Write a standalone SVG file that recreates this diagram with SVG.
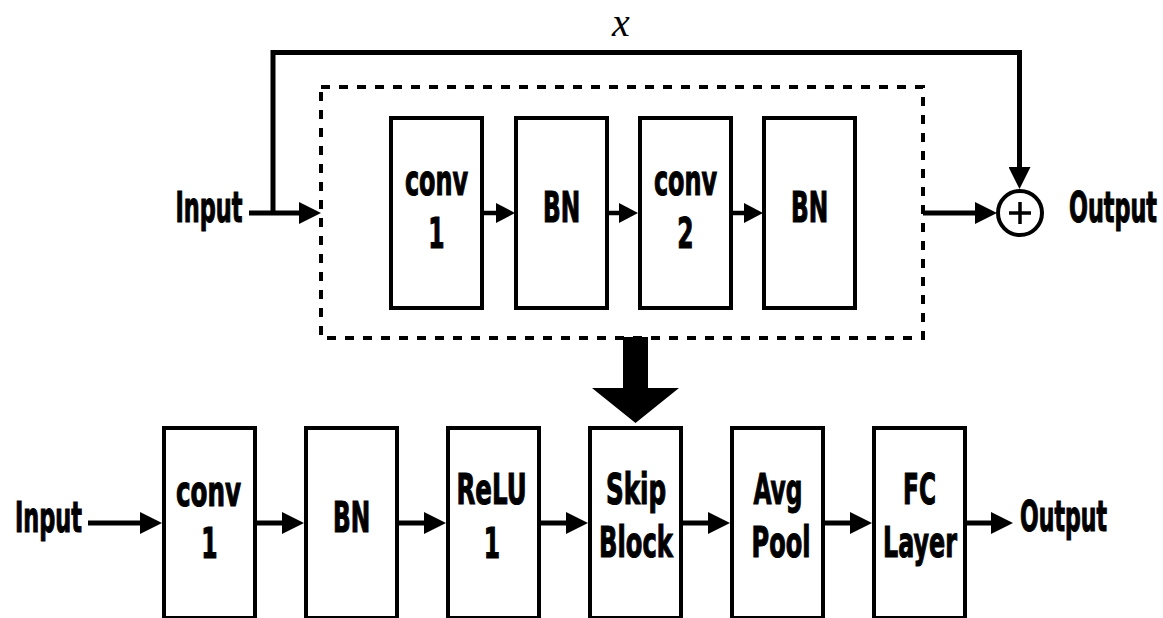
<svg xmlns="http://www.w3.org/2000/svg" width="1163" height="618" viewBox="0 0 1163 618">
<style>
.box{fill:#fff;stroke:#000;stroke-width:4}
.lbl{font-family:"DejaVu Sans Condensed","DejaVu Sans","Liberation Sans",sans-serif;font-weight:bold;font-size:42px;fill:#000;stroke:#000;stroke-width:1.1px}
.c{text-anchor:middle}
.ln{fill:none;stroke:#000;stroke-width:5}
.ln2{fill:none;stroke:#000;stroke-width:4.5}
</style>
<defs>
<marker id="ahL" markerUnits="userSpaceOnUse" markerWidth="22" markerHeight="22" refX="12" refY="11" orient="auto"><path d="M0,0 L22,11 L0,22 z" fill="#000"/></marker>
<marker id="ahS" markerUnits="userSpaceOnUse" markerWidth="19" markerHeight="20" refX="9" refY="10" orient="auto"><path d="M0,0 L19,10 L0,20 z" fill="#000"/></marker>
</defs>
<rect width="1163" height="618" fill="#fff"/>

<g id="connectors">
<path class="ln" d="M273,211 V52.5 H1019.5 V179" marker-end="url(#ahL)"/>
<line class="ln" x1="249" y1="213" x2="311" y2="213" marker-end="url(#ahL)"/>
<line class="ln2" x1="483" y1="213" x2="505" y2="213" marker-end="url(#ahS)"/>
<line class="ln2" x1="607" y1="213" x2="628" y2="213" marker-end="url(#ahS)"/>
<line class="ln2" x1="733" y1="213" x2="753" y2="213" marker-end="url(#ahS)"/>
<line class="ln" x1="923" y1="213" x2="987" y2="213" marker-end="url(#ahL)"/>
<polygon points="623,337 648,337 648,388 679,388 635.5,423 592,388 623,388" fill="#000"/>
<line class="ln" x1="88" y1="523" x2="152" y2="523" marker-end="url(#ahL)"/>
<line class="ln" x1="257" y1="523" x2="294" y2="523" marker-end="url(#ahL)"/>
<line class="ln" x1="399" y1="523" x2="436" y2="523" marker-end="url(#ahL)"/>
<line class="ln" x1="541" y1="523" x2="578" y2="523" marker-end="url(#ahL)"/>
<line class="ln" x1="683" y1="523" x2="720" y2="523" marker-end="url(#ahL)"/>
<line class="ln" x1="825" y1="523" x2="862" y2="523" marker-end="url(#ahL)"/>
<line class="ln" x1="967" y1="523" x2="1003" y2="523" marker-end="url(#ahL)"/>
</g>

<g id="label-x"><text x="621" y="36" font-family="'Liberation Serif','DejaVu Serif',serif" font-style="italic" font-size="40" text-anchor="middle">x</text></g>

<g id="skip-block">
<rect x="321" y="87" width="602" height="251" fill="none" stroke="#000" stroke-width="4" stroke-dasharray="9 9"/>
</g>

<g id="top-input"><text class="lbl c" transform="translate(209,222) scale(0.62,1)" textLength="108" lengthAdjust="spacingAndGlyphs">Input</text></g>
<g id="top-conv1"><rect class="box" x="391" y="118" width="91" height="190"/>
<text class="lbl c" transform="translate(436.5,195) scale(0.62,1)" textLength="102" lengthAdjust="spacingAndGlyphs">conv</text>
<text class="lbl c" transform="translate(436.5,248) scale(0.62,1)">1</text></g>
<g id="top-bn1"><rect class="box" x="516" y="118" width="91" height="190"/>
<text class="lbl c" transform="translate(561.5,222) scale(0.62,1)" textLength="60" lengthAdjust="spacingAndGlyphs">BN</text></g>
<g id="top-conv2"><rect class="box" x="640" y="118" width="91" height="190"/>
<text class="lbl c" transform="translate(685.5,195) scale(0.62,1)" textLength="102" lengthAdjust="spacingAndGlyphs">conv</text>
<text class="lbl c" transform="translate(685.5,248) scale(0.62,1)">2</text></g>
<g id="top-bn2"><rect class="box" x="764" y="118" width="91" height="190"/>
<text class="lbl c" transform="translate(809.5,222) scale(0.62,1)" textLength="60" lengthAdjust="spacingAndGlyphs">BN</text></g>
<g id="add"><circle cx="1020" cy="213" r="22" fill="#fff" stroke="#000" stroke-width="4"/>
<path d="M1009,213 H1031 M1020,202 V224" stroke="#000" stroke-width="3.5"/></g>
<g id="top-output"><text class="lbl c" transform="translate(1113,222) scale(0.62,1)" textLength="142" lengthAdjust="spacingAndGlyphs">Output</text></g>

<g id="bottom-input"><text class="lbl c" transform="translate(48.5,532) scale(0.62,1)" textLength="108" lengthAdjust="spacingAndGlyphs">Input</text></g>
<g id="b-conv1"><rect class="box" x="164" y="428" width="91" height="190"/>
<text class="lbl c" transform="translate(208.5,506) scale(0.62,1)" textLength="105" lengthAdjust="spacingAndGlyphs">conv</text>
<text class="lbl c" transform="translate(209.5,558) scale(0.62,1)">1</text></g>
<g id="b-bn"><rect class="box" x="306" y="428" width="91" height="190"/>
<text class="lbl c" transform="translate(351.5,532) scale(0.62,1)" textLength="60" lengthAdjust="spacingAndGlyphs">BN</text></g>
<g id="b-relu"><rect class="box" x="448" y="428" width="91" height="190"/>
<text class="lbl c" transform="translate(491.5,504) scale(0.62,1)" textLength="113" lengthAdjust="spacingAndGlyphs">ReLU</text>
<text class="lbl c" transform="translate(492,558) scale(0.62,1)">1</text></g>
<g id="b-skip"><rect class="box" x="590" y="428" width="91" height="190"/>
<text class="lbl c" transform="translate(636,504) scale(0.62,1)" textLength="97" lengthAdjust="spacingAndGlyphs">Skip</text>
<text class="lbl c" transform="translate(636,557) scale(0.62,1)" textLength="119" lengthAdjust="spacingAndGlyphs">Block</text></g>
<g id="b-avg"><rect class="box" x="732" y="428" width="91" height="190"/>
<text class="lbl c" transform="translate(778,504) scale(0.62,1)" textLength="79" lengthAdjust="spacingAndGlyphs">Avg</text>
<text class="lbl c" transform="translate(781,557) scale(0.62,1)" textLength="95" lengthAdjust="spacingAndGlyphs">Pool</text></g>
<g id="b-fc"><rect class="box" x="874" y="428" width="91" height="190"/>
<text class="lbl c" transform="translate(919.5,504) scale(0.62,1)" textLength="53" lengthAdjust="spacingAndGlyphs">FC</text>
<text class="lbl c" transform="translate(920,557) scale(0.62,1)" textLength="119" lengthAdjust="spacingAndGlyphs">Layer</text></g>
<g id="bottom-output"><text class="lbl c" transform="translate(1063.5,531) scale(0.62,1)" textLength="140" lengthAdjust="spacingAndGlyphs">Output</text></g>
</svg>
